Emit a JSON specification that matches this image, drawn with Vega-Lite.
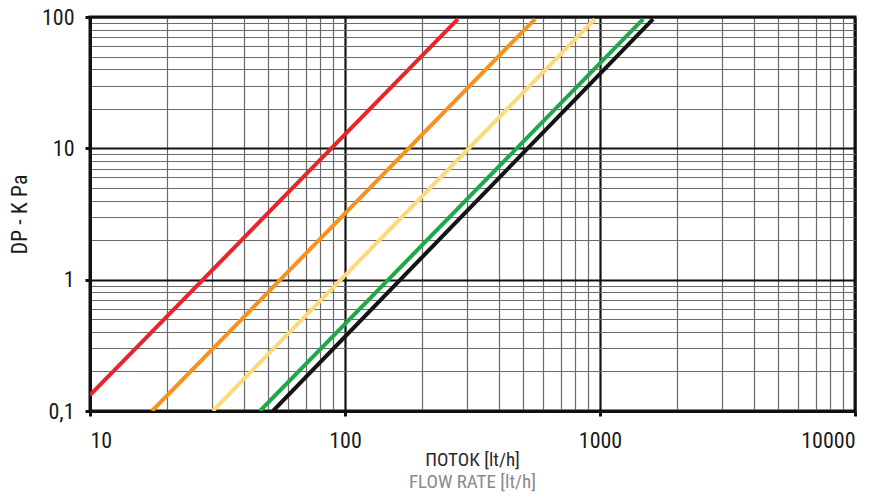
{
  "$schema": "https://vega.github.io/schema/vega-lite/v6.json",
  "autosize": "none",
  "width": 765,
  "height": 394,
  "padding": {"left": 90, "top": 17, "right": 25, "bottom": 86},
  "background": "white",
  "config": {
    "view": {"stroke": "#111", "strokeWidth": 3},
    "font": "Roboto Condensed, Liberation Sans Narrow, Roboto"
  },
  "title": {
    "text": "ПОТОК [lt/h]",
    "subtitle": "FLOW RATE [lt/h]",
    "orient": "bottom",
    "anchor": "middle",
    "frame": "group",
    "font": "Roboto Condensed, Liberation Sans Narrow, Roboto",
    "subtitleFont": "Roboto Condensed, Liberation Sans Narrow, Roboto",
    "fontSize": 19,
    "subtitleFontSize": 19,
    "fontWeight": "normal",
    "color": "#2a2a2a",
    "subtitleColor": "#8a8a8a",
    "subtitlePadding": 3,
    "offset": 0
  },
  "data": {
    "values": [
      {"series": "A", "q": 10, "dp": 0.132},
      {"series": "A", "q": 277, "dp": 96.5},
      {"series": "B", "q": 17.5, "dp": 0.1},
      {"series": "B", "q": 556, "dp": 96.5},
      {"series": "C", "q": 30.3, "dp": 0.1},
      {"series": "C", "q": 955, "dp": 96.5},
      {"series": "D", "q": 46.4, "dp": 0.1},
      {"series": "D", "q": 1476, "dp": 96.5},
      {"series": "E", "q": 52.2, "dp": 0.1},
      {"series": "E", "q": 1614, "dp": 96.5}
    ]
  },
  "mark": {"type": "line", "strokeWidth": 4, "clip": true},
  "encoding": {
    "x": {
      "field": "q",
      "type": "quantitative",
      "scale": {"type": "log", "domain": [10, 10000], "nice": false},
      "axis": {
        "title": null,
        "values": [10,20,30,40,50,60,70,80,90,100,200,300,400,500,600,700,800,900,1000,2000,3000,4000,5000,6000,7000,8000,9000,10000],
        "labelExpr": "abs(log(datum.value)/LN10 - round(log(datum.value)/LN10)) < 0.001 ? '' + datum.value : ''",
        "labelOverlap": false,
        "labelFontSize": 22,
        "labelColor": "#1a1a1a",
        "labelPadding": 14,
        "tickSize": 5,
        "tickWidth": 3,
        "tickColor": "#111",
        "tickOpacity": {"condition": {"test": "abs(log(datum.value)/LN10 - round(log(datum.value)/LN10)) < 0.001", "value": 1}, "value": 0},
        "domainColor": "#111",
        "domainWidth": 3,
        "grid": true,
        "gridColor": {"condition": {"test": "abs(log(datum.value)/LN10 - round(log(datum.value)/LN10)) < 0.001", "value": "#111"}, "value": "#6a6a6a"},
        "gridWidth": {"condition": {"test": "abs(log(datum.value)/LN10 - round(log(datum.value)/LN10)) < 0.001", "value": 2.2}, "value": 1.2},
        "gridOpacity": 1
      }
    },
    "y": {
      "field": "dp",
      "type": "quantitative",
      "scale": {"type": "log", "domain": [0.1, 100], "nice": false},
      "axis": {
        "title": "DP - K Pa",
        "titleFontSize": 22,
        "titleFontWeight": "normal",
        "titleColor": "#1a1a1a",
        "titlePadding": 10,
        "values": [0.1,0.2,0.3,0.4,0.5,0.6,0.7,0.8,0.9,1,2,3,4,5,6,7,8,9,10,20,30,40,50,60,70,80,90,100],
        "labelExpr": "datum.value == 0.1 ? '0,1' : (abs(log(datum.value)/LN10 - round(log(datum.value)/LN10)) < 0.001 ? '' + datum.value : '')",
        "labelOverlap": false,
        "labelFontSize": 22,
        "labelColor": "#1a1a1a",
        "labelPadding": 11,
        "tickSize": 5,
        "tickWidth": 3,
        "tickColor": "#111",
        "tickOpacity": {"condition": {"test": "abs(log(datum.value)/LN10 - round(log(datum.value)/LN10)) < 0.001", "value": 1}, "value": 0},
        "domainColor": "#111",
        "domainWidth": 3,
        "grid": true,
        "gridColor": {"condition": {"test": "abs(log(datum.value)/LN10 - round(log(datum.value)/LN10)) < 0.001", "value": "#111"}, "value": "#6a6a6a"},
        "gridWidth": {"condition": {"test": "abs(log(datum.value)/LN10 - round(log(datum.value)/LN10)) < 0.001", "value": 2.2}, "value": 1.2},
        "gridOpacity": 1
      }
    },
    "color": {
      "field": "series",
      "type": "nominal",
      "scale": {"domain": ["A","B","C","D","E"], "range": ["#e5262b", "#f7921e", "#fed87a", "#1ea84a", "#141414"]},
      "legend": null
    },
    "detail": {"field": "series"}
  }
}
